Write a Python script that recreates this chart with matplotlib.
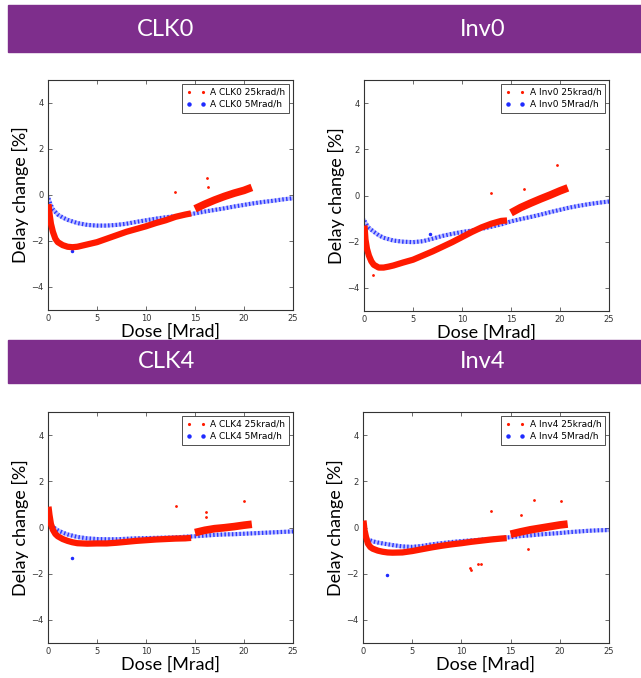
import matplotlib
matplotlib.use("Agg")
import numpy as np
import matplotlib.pyplot as plt
from matplotlib.lines import Line2D
from matplotlib.patches import Rectangle

# dose grids [Mrad]
dose_slow = [0.05, 0.15, 0.3, 0.5, 0.75, 1.0, 1.5, 2.0, 2.5, 3, 4, 5, 6, 7, 8, 9, 10,
             11, 12, 13, 14, 14.6, 15.0, 16, 17, 18, 19, 20, 20.8]
dose_fast = [0.05, 0.25, 0.5, 1, 1.5, 2, 3, 4, 5, 6, 7, 8, 9, 10, 11, 12, 13, 14, 15,
             16, 17, 18, 19, 20, 21, 22, 23, 24, 25]

# delay change [%], 25 krad/h runs
clk0_slow = [-0.4, -0.8, -1.25, -1.6, -1.9, -2.05, -2.18, -2.25, -2.27, -2.25, -2.15, -2.05,
             -1.9, -1.75, -1.6, -1.48, -1.36, -1.22, -1.1, -0.95, -0.85, -0.8,
             -0.6, -0.4, -0.22, -0.06, 0.08, 0.2, 0.33]
inv0_slow = [-1.3, -1.9, -2.3, -2.6, -2.85, -3.0, -3.12, -3.12, -3.08, -3.03, -2.9, -2.78,
             -2.6, -2.42, -2.22, -2.02, -1.8, -1.58, -1.38, -1.22, -1.1, -1.08,
             -0.75, -0.52, -0.33, -0.15, 0.02, 0.2, 0.33]
clk4_slow = [0.9, 0.55, 0.15, -0.1, -0.28, -0.38, -0.5, -0.58, -0.64, -0.68, -0.7, -0.69,
             -0.69, -0.66, -0.62, -0.58, -0.55, -0.52, -0.5, -0.48, -0.47, -0.45,
             -0.22, -0.12, -0.05, -0.01, 0.04, 0.1, 0.14]
inv4_slow = [0.3, -0.1, -0.4, -0.7, -0.85, -0.92, -1.0, -1.05, -1.08, -1.09, -1.08, -1.02,
             -0.94, -0.86, -0.79, -0.73, -0.68, -0.62, -0.57, -0.52, -0.48, -0.46,
             -0.29, -0.19, -0.1, -0.03, 0.04, 0.11, 0.15]

# delay change [%], 5 Mrad/h runs
clk0_fast = [-0.15, -0.4, -0.62, -0.85, -0.98, -1.08, -1.22, -1.3, -1.33, -1.33, -1.3, -1.25,
             -1.17, -1.1, -1.03, -0.97, -0.92, -0.87, -0.8, -0.72, -0.65, -0.58, -0.5,
             -0.43, -0.36, -0.3, -0.25, -0.19, -0.14]
inv0_fast = [-1.1, -1.25, -1.4, -1.57, -1.72, -1.83, -1.95, -2.0, -2.02, -1.98, -1.87, -1.75,
             -1.66, -1.58, -1.52, -1.44, -1.35, -1.25, -1.12, -1.02, -0.93, -0.83, -0.72,
             -0.62, -0.52, -0.44, -0.37, -0.31, -0.26]
clk4_fast = [0.4, 0.2, 0.02, -0.12, -0.22, -0.3, -0.41, -0.47, -0.5, -0.51, -0.51, -0.49,
             -0.47, -0.46, -0.45, -0.44, -0.43, -0.4, -0.38, -0.35, -0.32, -0.3, -0.29,
             -0.27, -0.25, -0.23, -0.21, -0.19, -0.17]
inv4_fast = [-0.2, -0.4, -0.52, -0.6, -0.65, -0.69, -0.76, -0.82, -0.84, -0.8, -0.73, -0.68,
             -0.63, -0.59, -0.56, -0.53, -0.5, -0.46, -0.42, -0.37, -0.34, -0.3, -0.27,
             -0.24, -0.2, -0.17, -0.14, -0.12, -0.11]

# stray points (dose, delay)
clk0_stray_slow = [(13.0, 0.15), (16.2, 0.75), (16.3, 0.35)]
clk0_stray_fast = [(2.4, -2.45)]
inv0_stray_slow = [(13.0, 0.1), (16.3, 0.3), (19.7, 1.3), (0.95, -3.45)]
inv0_stray_fast = [(6.7, -1.65)]
clk4_stray_slow = [(13.1, 0.95), (16.1, 0.65), (16.1, 0.45), (20.0, 1.15)]
clk4_stray_fast = [(2.4, -1.3)]
inv4_stray_slow = [(10.9, -1.75), (11.0, -1.85), (11.7, -1.6), (12.0, -1.58), (13.0, 0.7),
                   (16.1, 0.55), (16.8, -0.95), (17.4, 1.2), (20.1, 1.15)]
inv4_stray_fast = [(2.4, -2.05)]

names = ["CLK0", "Inv0", "CLK4", "Inv4"]
slow_sets = [clk0_slow, inv0_slow, clk4_slow, inv4_slow]
fast_sets = [clk0_fast, inv0_fast, clk4_fast, inv4_fast]
stray_slow = [clk0_stray_slow, inv0_stray_slow, clk4_stray_slow, inv4_stray_slow]
stray_fast = [clk0_stray_fast, inv0_stray_fast, clk4_stray_fast, inv4_stray_fast]

W, H = 641, 678
fig = plt.figure(figsize=(W / 100, H / 100), dpi=100)

purple = "#7E2E8C"
red = "#ff1a00"
blue = "#1f2bff"
label_font = "Lato"

# banners
for top, bot in [(5, 52), (340, 383)]:
    fig.patches.append(Rectangle((8 / W, 1 - bot / H), 1, (bot - top) / H,
                                 transform=fig.transFigure, color=purple, zorder=0))
for name, (cx, cy) in zip(names, [(166, 29), (483, 29), (166, 362), (483, 362)]):
    fig.text(cx / W, 1 - cy / H, name, color="white", fontsize=17, family=label_font,
             ha="center", va="center")

# axes boxes (left, top, right, bottom) in pixels
boxes = [(48, 80, 293, 310), (364, 80, 609, 311), (48, 412, 293, 643), (363, 412, 609, 643)]

ds = np.array(dose_slow)
df = np.array(dose_fast)
for i, (l, t, r, b) in enumerate(boxes):
    ax = fig.add_axes([l / W, 1 - b / H, (r - l) / W, (b - t) / H])
    ys = np.array(slow_sets[i])
    yf = np.array(fast_sets[i])

    # 5 Mrad/h: scattered blue band
    ax.plot(df, yf, color=blue, lw=3.0, alpha=0.3, zorder=2)
    ax.plot(df, yf, color=blue, lw=3.0, linestyle=(0, (0.35, 0.55)), alpha=0.9, zorder=2)
    # 25 krad/h: dense red band, two runs
    first = ds <= 14.6
    ax.plot(ds[first], ys[first], color=red, lw=4.5, solid_capstyle="butt", zorder=3)
    ax.plot(ds[~first], ys[~first], color=red, lw=5.5, solid_capstyle="butt", zorder=3)

    sx, sy = zip(*stray_slow[i])
    ax.plot(sx, sy, ".", color=red, ms=2, zorder=3)
    fx, fy = zip(*stray_fast[i])
    ax.plot(fx, fy, "o", color=blue, ms=1.5, zorder=2)

    ax.set_xlim(0, 25)
    ax.set_ylim(-5, 5)
    ax.set_xticks([0, 5, 10, 15, 20, 25])
    ax.set_yticks([-4, -2, 0, 2, 4])
    ax.tick_params(direction="in", top=True, right=True, labelsize=6, length=3,
                   width=0.5, colors="#333333", pad=3)
    for s in ax.spines.values():
        s.set_color("#333333")
        s.set_linewidth(0.8)
    ax.set_xlabel("Dose [Mrad]", fontsize=13, family=label_font, labelpad=0)
    ax.set_ylabel("Delay change [%]", fontsize=13, family=label_font, labelpad=2)

    handles = [Line2D([], [], marker=".", color=red, ms=2.5, linestyle="none"),
               Line2D([], [], marker="o", color=blue, ms=2.2, linestyle="none")]
    leg = ax.legend(handles, [f"A {names[i]} 25krad/h", f"A {names[i]} 5Mrad/h"],
                    loc="upper right", fontsize=6.5, numpoints=2, fancybox=False,
                    framealpha=1, edgecolor="#333333", borderpad=0.45,
                    handletextpad=0.5, labelspacing=0.35, handlelength=2.2,
                    borderaxespad=0.4)
    leg.get_frame().set_linewidth(0.6)

fig.savefig("out.png", dpi=100)
